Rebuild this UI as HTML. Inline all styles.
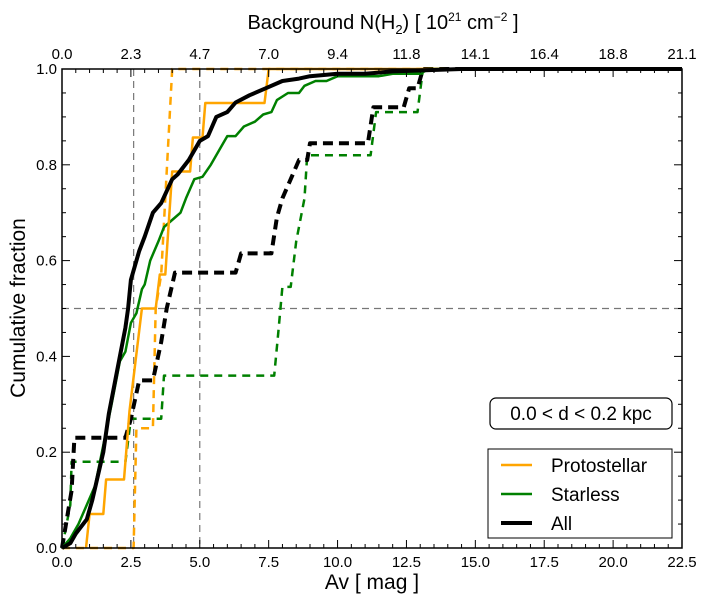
<!DOCTYPE html>
<html><head><meta charset="utf-8"><style>
body{margin:0;background:#fff;}
svg{display:block;font-family:"Liberation Sans","DejaVu Sans",sans-serif;}
</style></head><body>
<svg id="chart" width="710" height="603" viewBox="0 0 710 603" xmlns="http://www.w3.org/2000/svg">
<g id="grid"></g><g id="series"></g><g id="axes"></g>
<text x="372" y="589" font-size="21" text-anchor="middle">Av [ mag ]</text>
<text transform="translate(25,308) rotate(-90)" font-size="21" text-anchor="middle">Cumulative fraction</text>
<text x="383" y="29" font-size="20" text-anchor="middle">Background N(H<tspan font-size="13" dy="5">2</tspan><tspan dy="-5">)  [ 10</tspan><tspan font-size="12" dy="-8">21</tspan><tspan dy="8">  cm</tspan><tspan font-size="12" dy="-8">−2</tspan><tspan dy="8">  ]</tspan></text>
<g>
<rect x="490" y="398" width="182" height="31" rx="6" fill="#fff" stroke="#000" stroke-width="1.2"/>
<text x="581" y="420" font-size="19" text-anchor="middle">0.0 &lt; d &lt; 0.2 kpc</text>
</g>
<g>
<rect x="488" y="449" width="184" height="89" fill="#fff" stroke="#000" stroke-width="1"/>
<g><line x1="501" y1="465" x2="532" y2="465" stroke="orange" stroke-width="2.5"/><text x="551" y="472" font-size="19">Protostellar</text></g>
<g><line x1="501" y1="494" x2="532" y2="494" stroke="green" stroke-width="2.5"/><text x="551" y="501" font-size="19">Starless</text></g>
<g><line x1="501" y1="523" x2="532" y2="523" stroke="#000" stroke-width="4"/><text x="551" y="530" font-size="19">All</text></g>
</g>
</svg>
<script>
const xTicks=[0,2.5,5,7.5,10,12.5,15,17.5,20,22.5];
const topLabels=["0.0","2.3","4.7","7.0","9.4","11.8","14.1","16.4","18.8","21.1"];
const yTicks=[0,0.2,0.4,0.6,0.8,1.0];
const refX=[2.6,5.0];
const refY=[0.5];
const protoX=[0.87,1.0,1.5,1.6,2.25,2.45,2.9,3.4,3.55,3.75,4.0,4.65,4.75,5.1,5.2,7.35,7.5,22.5];
const protoY=[0,0.071,0.071,0.143,0.143,0.286,0.5,0.5,0.571,0.571,0.786,0.786,0.857,0.857,0.929,0.929,1,1];
const protoDX=[0,2.6,2.7,3.3,3.4,3.6,4.0,22.5];
const protoDY=[0,0,0.25,0.25,0.5,0.571,1,1];
const starX=[0,0.3,0.6,1.2,1.8,2.1,2.3,2.5,2.7,2.9,3.0,3.2,3.5,3.7,4.1,4.3,4.5,4.8,5.1,5.4,5.8,6.0,6.3,6.6,7.0,7.3,7.6,7.8,8.2,8.6,8.8,9.2,9.6,10.0,11.5,12.0,13.0,13.3,22.5];
const starY=[0,0.02,0.05,0.13,0.3,0.39,0.41,0.47,0.49,0.54,0.55,0.6,0.64,0.67,0.69,0.7,0.73,0.77,0.775,0.8,0.84,0.86,0.86,0.88,0.89,0.905,0.91,0.935,0.95,0.95,0.965,0.975,0.975,0.985,0.985,0.99,0.99,1,1];
const starDX=[0,0.3,0.35,2.3,2.5,3.6,3.7,7.7,7.85,8.0,8.3,8.5,8.8,8.9,11.2,11.4,12.9,13.1,22.5];
const starDY=[0,0.09,0.18,0.18,0.27,0.27,0.36,0.36,0.45,0.545,0.545,0.64,0.73,0.82,0.82,0.91,0.91,1,1];
const allX=[0,0.3,0.5,0.9,1.1,1.5,1.7,2.0,2.3,2.4,2.5,2.8,3.0,3.3,3.6,4.0,4.2,4.6,5.0,5.3,5.6,6.0,6.3,6.8,7.4,8.0,8.6,9.0,10.0,11.0,12.0,14.5,22.5];
const allY=[0,0.01,0.03,0.06,0.1,0.2,0.28,0.37,0.46,0.5,0.56,0.62,0.65,0.7,0.72,0.77,0.78,0.81,0.85,0.86,0.9,0.91,0.93,0.945,0.96,0.975,0.98,0.985,0.99,0.99,0.995,1,1];
const allDX=[0,0.35,0.45,2.3,2.5,2.8,3.3,3.6,3.8,4.1,6.3,6.5,7.6,7.8,8.0,8.3,8.6,8.9,9.0,11.1,11.3,12.4,12.6,12.9,13.1,22.5];
const allDY=[0,0.12,0.23,0.23,0.27,0.35,0.35,0.43,0.5,0.575,0.575,0.615,0.615,0.69,0.73,0.77,0.81,0.81,0.845,0.845,0.92,0.92,0.96,0.96,1,1];

const L=62,R=682,T=69,B=548;
const sx=v=>L+v*(R-L)/22.5, sy=v=>B-v*(B-T);
const NS="http://www.w3.org/2000/svg";
function mk(tag,attrs,parent){const e=document.createElementNS(NS,tag);for(const k in attrs)e.setAttribute(k,attrs[k]);parent.appendChild(e);return e;}
const grid=document.getElementById('grid'),ser=document.getElementById('series'),ax=document.getElementById('axes');
refX.forEach(v=>{const l=mk('line',{x1:sx(v),x2:sx(v),y1:T,y2:B,stroke:'#777','stroke-width':1.2,'stroke-dasharray':'7,5'},grid);

});
refY.forEach(v=>{const l=mk('line',{x1:L,x2:R,y1:sy(v),y2:sy(v),stroke:'#777','stroke-width':1.2,'stroke-dasharray':'7,5'},grid);

});
function series(xs,ys,color,w,dash,name){const p=xs.map((x,i)=>sx(x).toFixed(1)+','+sy(ys[i]).toFixed(1)).join(' ');
const a={points:p,fill:'none',stroke:color,'stroke-width':w,'stroke-linejoin':'round'};if(dash)a['stroke-dasharray']=dash;
const e=mk('polyline',a,ser);

}
series(starDX,starDY,'green',2.5,'8,6','starless-dashed-line');
series(protoDX,protoDY,'orange',2.5,'8,6','protostellar-dashed-line');
series(allDX,allDY,'#000',4,'10,6','all-dashed-line');
series(starX,starY,'green',2.5,null,'starless-line');
series(protoX,protoY,'orange',2.5,null,'protostellar-line');
series(allX,allY,'#000',4,null,'all-line');
const fr=mk('rect',{x:L,y:T,width:R-L,height:B-T,fill:'none',stroke:'#000','stroke-width':1.5},ax);


for(let v=0;v<=22.5001;v+=0.5){const major=Math.abs(v/2.5-Math.round(v/2.5))<1e-6;const len=major?8:4;
mk('line',{x1:sx(v),x2:sx(v),y1:B,y2:B-len,stroke:'#000'},ax);mk('line',{x1:sx(v),x2:sx(v),y1:T,y2:T+len,stroke:'#000'},ax);}
for(let v=0;v<=1.0001;v+=0.05){const major=Math.abs(v/0.2-Math.round(v/0.2))<1e-6;const len=major?8:4;
mk('line',{x1:L,x2:L+len,y1:sy(v),y2:sy(v),stroke:'#000'},ax);mk('line',{x1:R,x2:R-len,y1:sy(v),y2:sy(v),stroke:'#000'},ax);}
xTicks.forEach((v,i)=>{const t=mk('text',{x:sx(v),y:B+19,'font-size':15,'text-anchor':'middle'},ax);t.textContent=v.toFixed(1);


const u=mk('text',{x:sx(v),y:T-10,'font-size':15,'text-anchor':'middle'},ax);u.textContent=topLabels[i];

});
yTicks.forEach(v=>{const t=mk('text',{x:L-5,y:sy(v)+5,'font-size':15,'text-anchor':'end'},ax);t.textContent=v.toFixed(1);

});
</script>
</body></html>
